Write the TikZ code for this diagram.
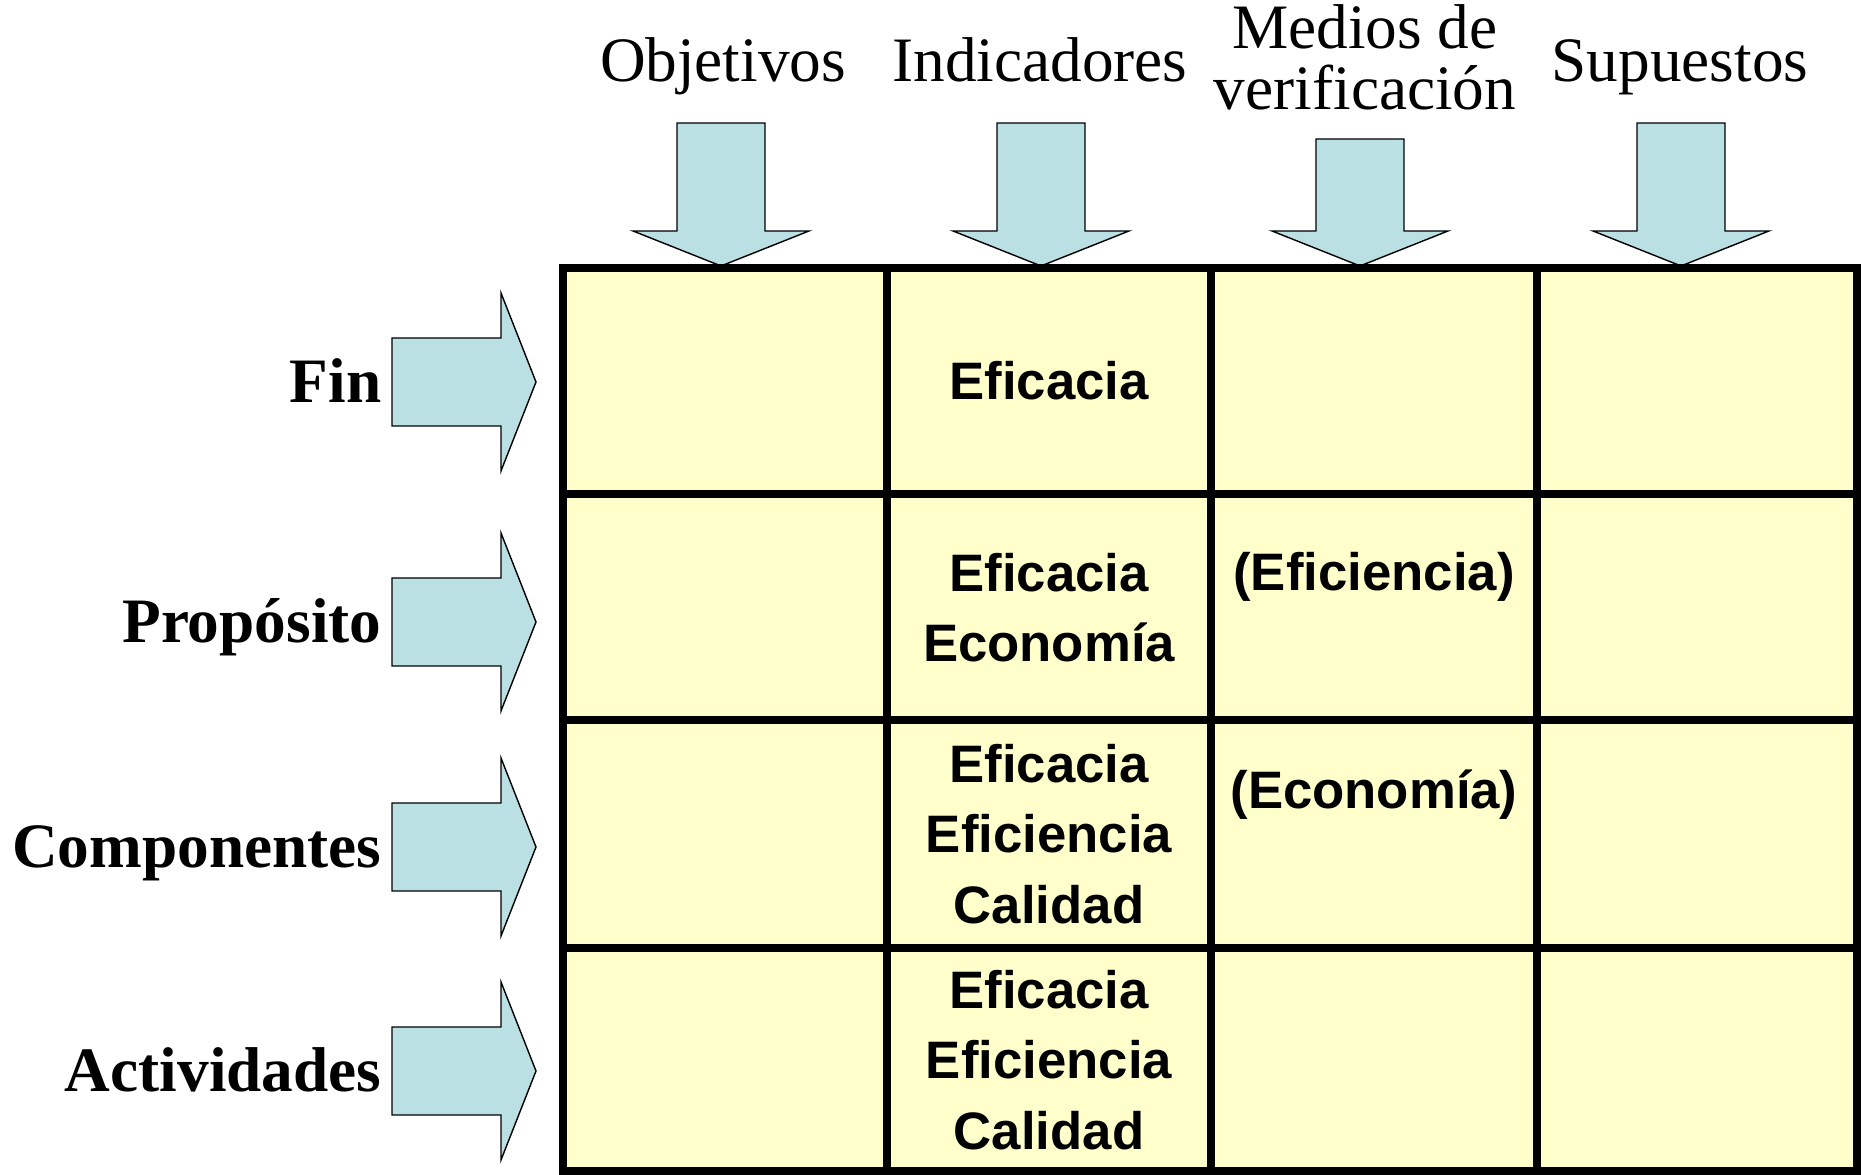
\documentclass[tikz,border=0pt]{standalone}
\usepackage{fontspec}
\setmainfont{Liberation Serif}
\newfontfamily\arialfont{Liberation Sans}
\definecolor{celda}{HTML}{FFFFCC}
\definecolor{flecha}{HTML}{BBE0E3}
% flecha hacia abajo: punta x, punta y, borde superior y
\newcommand{\flechaabajo}[3]{%
    \draw[style = thin, fill = flecha] (#1-0.44,#3) -- (#1+0.44,#3) -- (#1+0.44,#2+0.35) -- (#1+0.88,#2+0.35) -- (#1,#2) -- (#1-0.88,#2+0.35) -- (#1-0.44,#2+0.35) -- cycle;}
% flecha hacia la derecha: centro y
\newcommand{\flechaderecha}[1]{%
    \draw[style = thin, fill = flecha] (3.92,#1-0.44) -- (5.01,#1-0.44) -- (5.01,#1-0.89) -- (5.36,#1) -- (5.01,#1+0.89) -- (5.01,#1+0.44) -- (3.92,#1+0.44) -- cycle;}
\begin{document}
\begin{tikzpicture}
            \useasboundingbox (0,0) rectangle (18.61,11.75);
            \begin{scope}[every node/.append style = {font = \fontsize{18}{17.6}\selectfont, inner sep = 0pt}]
                \node[anchor = base] (objetivos) at (7.23,10.93) {Objetivos};
                \node[anchor = base] (indicadores) at (10.40,10.93) {Indicadores};
                \node[anchor = base, align = center] (medios) at (13.65,10.65) {Medios de\\verificación};
                \node[anchor = base] (supuestos) at (16.80,10.93) {Supuestos};
                \foreach \y/\etiqueta/\nombre in {7.93/Fin/fin, 5.53/Propósito/proposito, 3.28/Componentes/componentes, 1.04/Actividades/actividades} {
                    \flechaderecha{\y}
                    \node[anchor = base east, font = \fontsize{18}{17.6}\selectfont\bfseries] (\nombre) at (3.82,\y-0.21) {\etiqueta};
                }
            \end{scope}
            \flechaabajo{7.21}{9.09}{10.52}
            \flechaabajo{10.41}{9.09}{10.52}
            \flechaabajo{13.60}{9.09}{10.36}
            \flechaabajo{16.81}{9.09}{10.52}
            \begin{scope}
                \fill[celda] (5.63,0.04) rectangle (18.57,9.07);
                \foreach \x in {5.63, 8.87, 12.11, 15.37, 18.57} {
                    \draw[line width = 2.1pt, line cap = rect] (\x,0.04) -- (\x,9.07);
                }
                \foreach \y in {0.04, 2.27, 4.55, 6.81, 9.07} {
                    \draw[line width = 2.1pt, line cap = rect] (5.63,\y) -- (18.57,\y);
                }
            \end{scope}
            \begin{scope}[every node/.append style = {font = \arialfont\bfseries\fontsize{15}{20}\selectfont, align = center}]
                \node (ind-fin) at (10.49,7.94) {Eficacia};
                \node (ind-proposito) at (10.49,5.67) {Eficacia\\Economía};
                \node (ind-componentes) at (10.49,3.41) {Eficacia\\Eficiencia\\Calidad};
                \node (ind-actividades) at (10.49,1.15) {Eficacia\\Eficiencia\\Calidad};
                \node (med-proposito) at (13.74,5.98) {(Eficiencia)};
                \node (med-componentes) at (13.74,3.80) {(Economía)};
            \end{scope}
        \end{tikzpicture}
\end{document}
